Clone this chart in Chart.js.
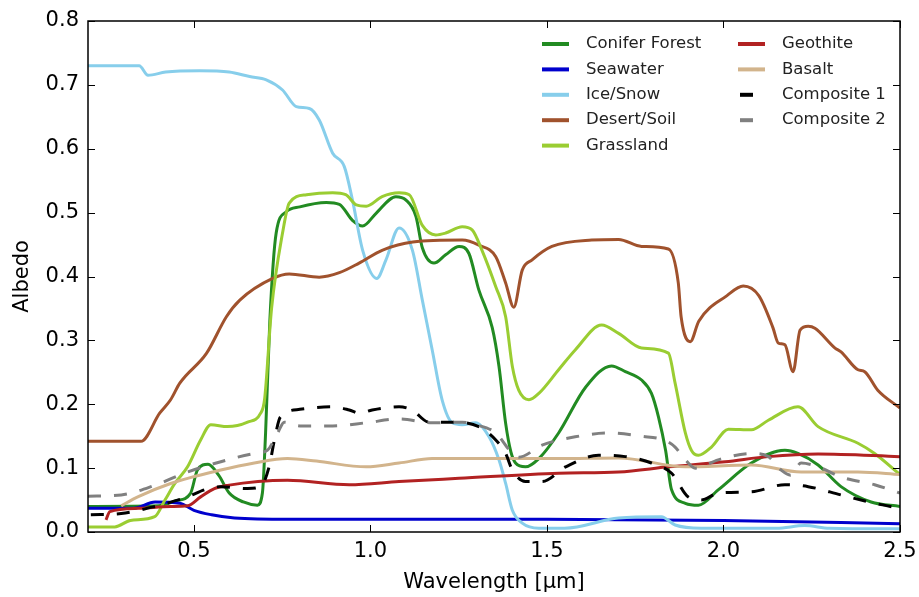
<!DOCTYPE html>
<html>
<head>
<meta charset="utf-8">
<script src="https://cdn.jsdelivr.net/npm/chart.js@4/dist/chart.umd.min.js"></script>
<style>
  html, body { margin: 0; padding: 0; background: #fff; }
  canvas { display: block; }
</style>
</head>
<body>
<canvas id="c" width="919" height="597"></canvas>
<script>
// ---- Data (wavelength [µm], albedo) ----
const seriesNames = ["Conifer Forest", "Seawater", "Ice/Snow", "Desert/Soil", "Grassland",
                     "Geothite", "Basalt", "Composite 1", "Composite 2"];
const xTicks = [0.5, 1.0, 1.5, 2.0, 2.5];
const yTicks = [0.0, 0.1, 0.2, 0.3, 0.4, 0.5, 0.6, 0.7, 0.8];

const coniferForest = [[0.20,0.040],[0.40,0.041],[0.45,0.049],[0.49,0.060],[0.51,0.097],[0.54,0.106],[0.57,0.089],[0.60,0.061],[0.64,0.047],[0.68,0.042],[0.694,0.061],[0.703,0.155],[0.715,0.33],[0.733,0.468],[0.761,0.501],[0.80,0.509],[0.875,0.516],[0.912,0.513],[0.949,0.488],[0.978,0.479],[1.016,0.499],[1.072,0.525],[1.10,0.52],[1.129,0.494],[1.147,0.445],[1.18,0.421],[1.213,0.434],[1.251,0.447],[1.279,0.436],[1.307,0.379],[1.345,0.32],[1.364,0.26],[1.383,0.17],[1.398,0.125],[1.411,0.108],[1.439,0.102],[1.477,0.115],[1.533,0.155],[1.61,0.227],[1.683,0.26],[1.722,0.251],[1.768,0.238],[1.796,0.217],[1.816,0.18],[1.836,0.128],[1.853,0.066],[1.892,0.045],[1.929,0.042],[1.985,0.066],[2.079,0.108],[2.174,0.128],[2.211,0.123],[2.268,0.105],[2.333,0.071],[2.418,0.047],[2.50,0.040]];
const seawater = [[0.20,0.037],[0.33,0.037],[0.39,0.047],[0.46,0.045],[0.50,0.034],[0.55,0.027],[0.615,0.022],[0.77,0.020],[1.50,0.020],[2.00,0.018],[2.50,0.013]];
const iceSnow = [[0.20,0.73],[0.345,0.73],[0.37,0.715],[0.42,0.72],[0.516,0.722],[0.60,0.72],[0.658,0.713],[0.705,0.708],[0.751,0.692],[0.79,0.666],[0.827,0.663],[0.855,0.645],[0.893,0.593],[0.926,0.572],[0.949,0.52],[0.978,0.441],[1.018,0.397],[1.044,0.426],[1.081,0.476],[1.119,0.441],[1.147,0.363],[1.175,0.285],[1.203,0.207],[1.232,0.171],[1.26,0.168],[1.298,0.171],[1.336,0.149],[1.364,0.113],[1.383,0.076],[1.402,0.034],[1.43,0.014],[1.477,0.006],[1.55,0.006],[1.703,0.022],[1.824,0.024],[1.863,0.011],[1.937,0.006],[2.15,0.006],[2.23,0.010],[2.30,0.006],[2.50,0.005]];
const desertSoil = [[0.20,0.142],[0.35,0.142],[0.403,0.186],[0.434,0.207],[0.46,0.233],[0.536,0.28],[0.592,0.337],[0.63,0.363],[0.723,0.397],[0.77,0.404],[0.855,0.399],[0.912,0.406],[0.968,0.421],[1.033,0.441],[1.12,0.454],[1.26,0.457],[1.307,0.449],[1.355,0.431],[1.383,0.39],[1.406,0.352],[1.43,0.41],[1.458,0.426],[1.514,0.447],[1.627,0.457],[1.703,0.458],[1.768,0.447],[1.844,0.443],[1.872,0.39],[1.88,0.337],[1.906,0.298],[1.93,0.33],[2.01,0.37],[2.056,0.385],[2.10,0.37],[2.14,0.32],[2.155,0.296],[2.174,0.293],[2.197,0.251],[2.217,0.316],[2.24,0.322],[2.259,0.319],[2.316,0.288],[2.333,0.282],[2.381,0.254],[2.40,0.251],[2.437,0.222],[2.50,0.194]];
const grassland = [[0.20,0.008],[0.276,0.008],[0.32,0.018],[0.389,0.024],[0.418,0.05],[0.446,0.076],[0.482,0.102],[0.519,0.144],[0.548,0.168],[0.595,0.165],[0.652,0.172],[0.689,0.186],[0.70,0.207],[0.72,0.35],[0.751,0.468],[0.77,0.515],[0.819,0.528],[0.893,0.531],[0.93,0.528],[0.96,0.512],[0.988,0.51],[1.033,0.525],[1.081,0.531],[1.11,0.528],[1.147,0.48],[1.185,0.465],[1.213,0.468],[1.26,0.478],[1.288,0.473],[1.316,0.441],[1.355,0.384],[1.383,0.337],[1.402,0.259],[1.42,0.222],[1.449,0.207],[1.477,0.217],[1.533,0.254],[1.58,0.285],[1.655,0.324],[1.703,0.311],[1.768,0.288],[1.844,0.28],[1.863,0.233],[1.892,0.155],[1.909,0.128],[1.929,0.12],[1.966,0.133],[2.014,0.161],[2.079,0.16],[2.127,0.175],[2.211,0.196],[2.268,0.165],[2.381,0.139],[2.428,0.123],[2.50,0.09]];
const geothite = [[0.251,0.019],[0.262,0.032],[0.341,0.037],[0.434,0.040],[0.482,0.041],[0.519,0.055],[0.558,0.068],[0.595,0.073],[0.765,0.081],[0.94,0.074],[1.081,0.079],[1.251,0.084],[1.533,0.092],[1.703,0.094],[1.844,0.102],[2.005,0.110],[2.127,0.118],[2.268,0.122],[2.50,0.118]];
const basalt = [[0.294,0.041],[0.341,0.055],[0.434,0.076],[0.576,0.097],[0.671,0.108],[0.765,0.115],[0.847,0.111],[0.988,0.102],[1.081,0.108],[1.175,0.115],[1.533,0.115],[1.703,0.116],[1.892,0.102],[2.079,0.105],[2.22,0.094],[2.381,0.094],[2.50,0.09]];
const composite1 = [[0.208,0.027],[0.294,0.029],[0.389,0.040],[0.482,0.055],[0.53,0.066],[0.576,0.071],[0.652,0.068],[0.689,0.071],[0.713,0.102],[0.728,0.144],[0.745,0.18],[0.80,0.192],[0.893,0.196],[0.94,0.191],[0.968,0.186],[1.005,0.191],[1.081,0.196],[1.118,0.191],[1.166,0.172],[1.24,0.172],[1.307,0.165],[1.355,0.144],[1.383,0.123],[1.402,0.097],[1.439,0.079],[1.486,0.079],[1.553,0.102],[1.646,0.12],[1.722,0.118],[1.796,0.108],[1.853,0.092],[1.90,0.055],[1.937,0.05],[1.985,0.061],[2.079,0.063],[2.174,0.074],[2.24,0.071],[2.333,0.058],[2.428,0.045],[2.50,0.037]];
const composite2 = [[0.20,0.056],[0.294,0.058],[0.389,0.073],[0.482,0.094],[0.576,0.11],[0.671,0.123],[0.708,0.128],[0.737,0.155],[0.756,0.172],[0.80,0.166],[0.893,0.166],[0.988,0.171],[1.081,0.177],[1.175,0.171],[1.26,0.172],[1.298,0.168],[1.355,0.155],[1.402,0.123],[1.42,0.117],[1.486,0.136],[1.58,0.149],[1.675,0.155],[1.768,0.15],[1.836,0.143],[1.863,0.133],[1.892,0.113],[1.92,0.10],[1.985,0.113],[2.079,0.123],[2.127,0.118],[2.163,0.097],[2.19,0.089],[2.22,0.108],[2.268,0.102],[2.333,0.086],[2.428,0.074],[2.50,0.061]];

const seriesData = [coniferForest, seawater, iceSnow, desertSoil, grassland, geothite, basalt, composite1, composite2];
const seriesColors = ["#228B22", "#0000CD", "#87CEEB", "#A0522D", "#9ACD32", "#B22222", "#D2B48C", "#000000", "#808080"];
const seriesDashes = [[], [], [], [], [], [], [], [13, 13], [13, 13]];

const FONT = "'DejaVu Sans', 'Liberation Sans', sans-serif";

const datasets = seriesNames.map((name, i) => ({
  label: name,
  data: seriesData[i].map(p => ({ x: p[0], y: p[1] })),
  borderColor: seriesColors[i],
  backgroundColor: seriesColors[i],
  borderWidth: 3,
  borderDash: seriesDashes[i],
  borderCapStyle: 'butt',
  pointRadius: 0,
  fill: false,
  cubicInterpolationMode: 'monotone',
  order: seriesNames.length - i
}));

const framePlugin = {
  id: 'frameTicks',
  afterDatasetsDraw(chart) {
    const { ctx, chartArea: a, scales } = chart;
    ctx.save();
    ctx.strokeStyle = '#000';
    ctx.lineWidth = 1;
    const L = 7;
    ctx.beginPath();
    scales.x.ticks.forEach(t => {
      const px = Math.round(scales.x.getPixelForValue(t.value)) + 0.5;
      ctx.moveTo(px, a.bottom); ctx.lineTo(px, a.bottom - L);
      ctx.moveTo(px, a.top); ctx.lineTo(px, a.top + L);
    });
    scales.y.ticks.forEach(t => {
      const py = Math.round(scales.y.getPixelForValue(t.value)) + 0.5;
      ctx.moveTo(a.left, py); ctx.lineTo(a.left + L, py);
      ctx.moveTo(a.right, py); ctx.lineTo(a.right - L, py);
    });
    ctx.stroke();
    ctx.lineWidth = 1.5;
    ctx.strokeRect(a.left, a.top, a.right - a.left, a.bottom - a.top);
    ctx.restore();
  }
};

const legendPlugin = {
  id: 'insideLegend',
  afterDraw(chart) {
    const { ctx, chartArea: a } = chart;
    ctx.save();
    ctx.font = "16.5px " + FONT;
    ctx.textBaseline = 'middle';
    ctx.textAlign = 'left';
    const rowH = 25.4;
    const cols = [{ lineX: a.right - 358, textX: a.right - 314 }, { lineX: a.right - 162, textX: a.right - 118 }];
    const perCol = 5;
    chart.data.datasets.forEach((ds, i) => {
      const c = cols[Math.floor(i / perCol)];
      const row = i % perCol;
      const y = a.top + 23 + row * rowH;
      ctx.strokeStyle = ds.borderColor;
      ctx.lineWidth = 4;
      ctx.lineCap = 'butt';
      ctx.beginPath();
      if (ds.borderDash && ds.borderDash.length) {
        ctx.moveTo(c.lineX + 2, y); ctx.lineTo(c.lineX + 15, y);
      } else {
        ctx.moveTo(c.lineX, y); ctx.lineTo(c.lineX + 27, y);
      }
      ctx.stroke();
      ctx.fillStyle = '#222';
      ctx.fillText(ds.label, c.textX, y);
    });
    ctx.restore();
  }
};

new Chart(document.getElementById('c'), {
  type: 'line',
  data: { datasets },
  options: {
    responsive: false,
    animation: false,
    layout: { padding: { top: 21, right: 19, bottom: 0, left: 0 } },
    plugins: { legend: { display: false }, tooltip: { enabled: false } },
    scales: {
      x: {
        type: 'linear',
        min: 0.2, max: 2.5,
        afterBuildTicks: s => { s.ticks = xTicks.map(v => ({ value: v })); },
        afterFit: s => { s.height = 65; s.paddingRight = 0; s.paddingLeft = 0; },
        grid: { display: false, drawTicks: false },
        border: { display: false },
        ticks: { color: '#000', font: { family: FONT, size: 21 }, padding: 7, maxRotation: 0,
                 callback: v => Number(v).toFixed(1) },
        title: { display: true, text: 'Wavelength [μm]', color: '#000',
                 font: { family: FONT, size: 21 }, padding: { top: 0, bottom: 2 } }
      },
      y: {
        type: 'linear',
        min: 0, max: 0.8,
        afterBuildTicks: s => { s.ticks = yTicks.map(v => ({ value: v })); },
        afterFit: s => { s.width = 88; s.paddingTop = 0; s.paddingBottom = 0; },
        grid: { display: false, drawTicks: false },
        border: { display: false },
        ticks: { color: '#000', font: { family: FONT, size: 21 }, padding: 9,
                 callback: v => Number(v).toFixed(1) },
        title: { display: true, text: 'Albedo', color: '#000',
                 font: { family: FONT, size: 21 }, padding: { top: 10, bottom: 0 } }
      }
    }
  },
  plugins: [framePlugin, legendPlugin]
});
</script>
</body>
</html>
